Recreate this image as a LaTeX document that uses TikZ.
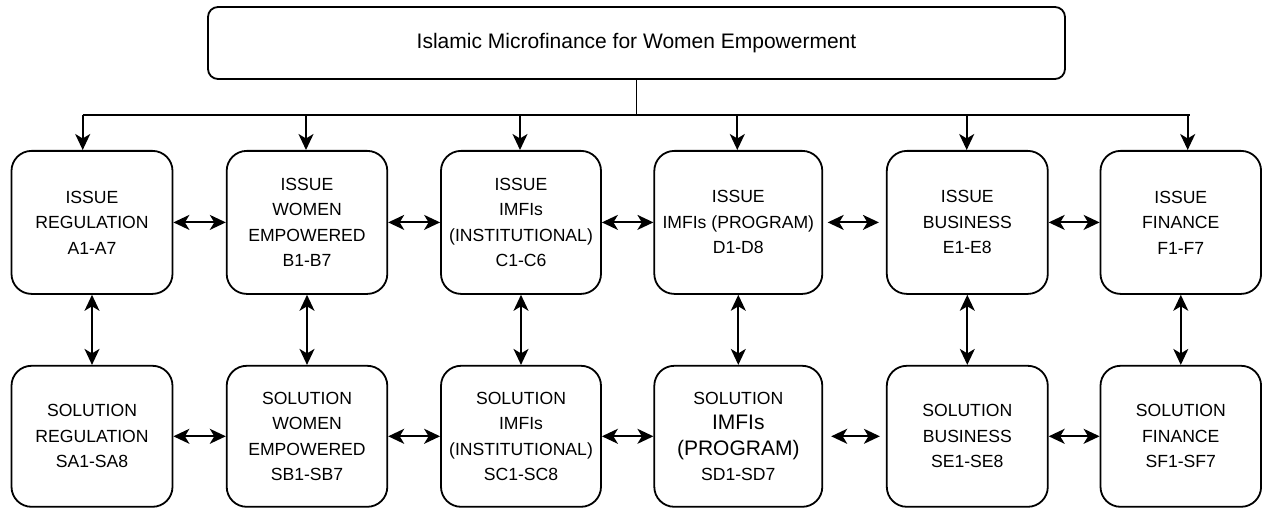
\documentclass[tikz,border=0pt]{standalone}
\usepackage{fontspec}
\setmainfont{Liberation Sans}
\usetikzlibrary{arrows.meta}
\begin{document}
\begin{tikzpicture}[x=1pt,y=-1pt,
  box/.style={draw, line width=1.8pt, rounded corners=20pt, inner sep=0pt, align=center,
    font=\fontsize{17.6}{25.5}\selectfont, minimum width=161pt},
  issuebox/.style={box, minimum height=143pt},
  solbox/.style={box, minimum height=141pt},
  titlebox/.style={draw, line width=1.8pt, rounded corners=10pt, inner sep=0pt,
    minimum width=857pt, minimum height=72pt, font=\fontsize{21}{25}\selectfont},
  conn/.style={line width=1.8pt},
  tip/.tip={Stealth[length=16pt,width=15pt,inset=4.5pt]},
  arr/.style={line width=1.8pt, -tip},
  darr/.style={line width=1.8pt, tip-tip}
]
\useasboundingbox (0,0) rectangle (1262,508);
\fill[white] (0,0) rectangle (1262,508);

\node[titlebox] (title) at (636.5,43) {Islamic Microfinance for Women Empowerment};

% issue row
\node[issuebox] (A) at (92,222.4) {ISSUE\\REGULATION\\A1-A7};
\node[issuebox, minimum width=160.6pt] (B) at (307,222.4) {ISSUE\\WOMEN\\EMPOWERED\\B1-B7};
\node[issuebox, minimum width=160pt] (C) at (521,222.4) {ISSUE\\IMFIs\\(INSTITUTIONAL)\\C1-C6};
\node[issuebox, minimum width=168pt] (D) at (738.3,222.4) {ISSUE\\IMFIs (PROGRAM)\\D1-D8};
\node[issuebox] (E) at (967.3,222.4) {ISSUE\\BUSINESS\\E1-E8};
\node[issuebox, minimum width=160.6pt] (F) at (1180.8,222.4) {ISSUE\\FINANCE\\F1-F7};

% solution row
\node[solbox] (SA) at (92,436.3) {SOLUTION\\REGULATION\\SA1-SA8};
\node[solbox, minimum width=160.6pt] (SB) at (307,436.3) {SOLUTION\\WOMEN\\EMPOWERED\\SB1-SB7};
\node[solbox, minimum width=160pt] (SC) at (521,436.3) {SOLUTION\\IMFIs\\(INSTITUTIONAL)\\SC1-SC8};
\node[solbox, minimum width=168pt] (SD) at (738.3,436.3) {SOLUTION\\{\fontsize{21}{26.5}\selectfont IMFIs}\\{\fontsize{21}{26.5}\selectfont (PROGRAM)}\\SD1-SD7};
\node[solbox] (SE) at (967.3,436.3) {SOLUTION\\BUSINESS\\SE1-SE8};
\node[solbox, minimum width=160.6pt] (SF) at (1180.8,436.3) {SOLUTION\\FINANCE\\SF1-SF7};

% distribution bus
\coordinate (bus) at (636.5,115);
\coordinate (busL) at (82.7,115);
\coordinate (busR) at (1190,115);
\coordinate (tA) at (82.7,115);
\coordinate (tB) at (306,115);
\coordinate (tC) at (520,115);
\coordinate (tD) at (737.3,115);
\coordinate (tE) at (966.7,115);
\coordinate (tF) at (1187.7,115);

\draw[conn] (title.south) -- (bus);
\draw[conn] (busL) -- (busR);
\draw[arr] (tA) -- (tA |- A.north);
\draw[arr] (tB) -- (tB |- B.north);
\draw[arr] (tC) -- (tC |- C.north);
\draw[arr] (tD) -- (tD |- D.north);
\draw[arr] (tE) -- (tE |- E.north);
\draw[arr] (tF) -- (tF |- F.north);

% horizontal links, issue row
\draw[darr] (A) -- (B);
\draw[darr] (B) -- (C);
\draw[darr] (C) -- (D);
\draw[darr, shorten <=4.5pt, shorten >=7pt] (D) -- (E);
\draw[darr] (E) -- (F);

% horizontal links, solution row
\draw[darr] (SA) -- (SB);
\draw[darr] (SB) -- (SC);
\draw[darr] (SC) -- (SD);
\draw[darr, shorten <=8pt, shorten >=6pt] (SD) -- (SE);
\draw[darr] (SE) -- (SF);

% vertical links
\draw[darr] (A) -- (SA);
\draw[darr] (B) -- (SB);
\draw[darr] (C) -- (SC);
\draw[darr] (D) -- (SD);
\draw[darr] (E) -- (SE);
\draw[darr] (F) -- (SF);
\end{tikzpicture}
\end{document}
